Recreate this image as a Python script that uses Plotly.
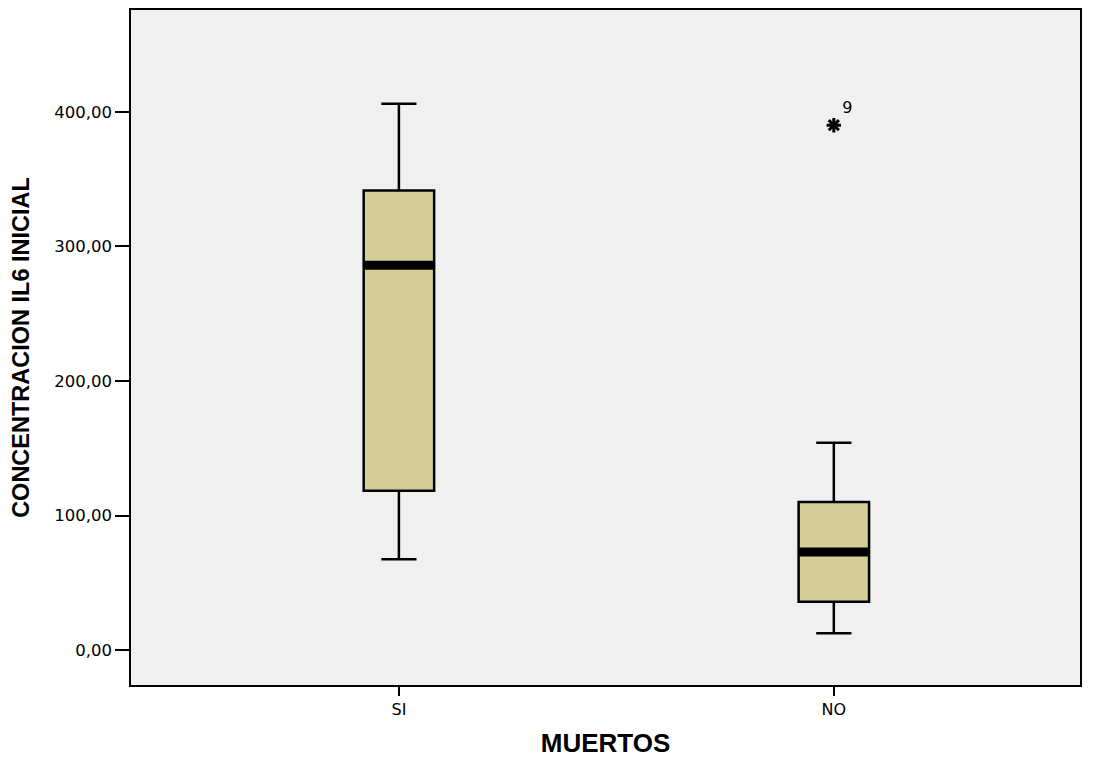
import plotly.graph_objects as go

categories = ["SI", "NO"]
q1 = [118.5, 36.0]
median = [286.0, 73.0]
q3 = [341.5, 110.0]
lower_whisker = [67.5, 12.5]
upper_whisker = [406.0, 154.0]
outlier_cat = ["NO"]
outlier_val = [390.0]
outlier_label = ["9"]
ytick_vals = [0, 100, 200, 300, 400]
ytick_text = ["0,00", "100,00", "200,00", "300,00", "400,00"]

pos = {c: i for i, c in enumerate(categories)}
xs = [pos[c] for c in categories]
box_w = 0.162
fill = "#D3CE98"
FONT = "Liberation Sans, Arial, sans-serif"
TICKFONT = "DejaVu Sans, Arial, sans-serif"

fig = go.Figure()
fig.add_trace(go.Box(
    x=xs, q1=q1, median=median, q3=q3,
    lowerfence=lower_whisker, upperfence=upper_whisker,
    width=box_w, whiskerwidth=0.5,
    fillcolor=fill, line=dict(color="black", width=2.5),
    boxpoints=False, showlegend=False, hoverinfo="skip",
))
for i, m in zip(xs, median):
    fig.add_trace(go.Scatter(
        x=[i - box_w / 2, i + box_w / 2], y=[m, m], mode="lines",
        line=dict(color="black", width=9), showlegend=False, hoverinfo="skip",
    ))
fig.add_trace(go.Scatter(
    x=[pos[c] for c in outlier_cat], y=outlier_val, mode="markers+text",
    marker=dict(symbol="asterisk-open", size=12, color="black",
                line=dict(color="black", width=3)),
    text=outlier_label, textposition="top right",
    textfont=dict(family=TICKFONT, size=16, color="black"),
    showlegend=False, hoverinfo="skip",
))

fig.update_layout(
    width=1094, height=757,
    margin=dict(l=123, r=22, t=0, b=80),
    paper_bgcolor="white", plot_bgcolor="#F0F0F0",
    font=dict(family=FONT, color="black"),
    xaxis=dict(
        range=[-0.616, 1.566], tickvals=xs, ticktext=categories,
        showgrid=False, zeroline=False, showline=True, linecolor="black", linewidth=1.5,
        mirror=True, ticks="outside", ticklen=9, tickcolor="black", tickwidth=1.5,
        tickfont=dict(family=TICKFONT, size=16),
        title=dict(text="<b>MUERTOS</b>", font=dict(size=26), standoff=16),
    ),
    yaxis=dict(
        range=[-25.9, 475.6], tickvals=ytick_vals, ticktext=ytick_text,
        showgrid=False, zeroline=False, showline=True, linecolor="black", linewidth=1.5,
        mirror=True, ticks="outside", ticklen=14, tickcolor="black", tickwidth=1.5,
        tickfont=dict(family=TICKFONT, size=16.5),
        title=dict(text="<b>CONCENTRACION IL6 INICIAL</b>", font=dict(size=23.5), standoff=18),
    ),
)
fig.write_html("out.html")
